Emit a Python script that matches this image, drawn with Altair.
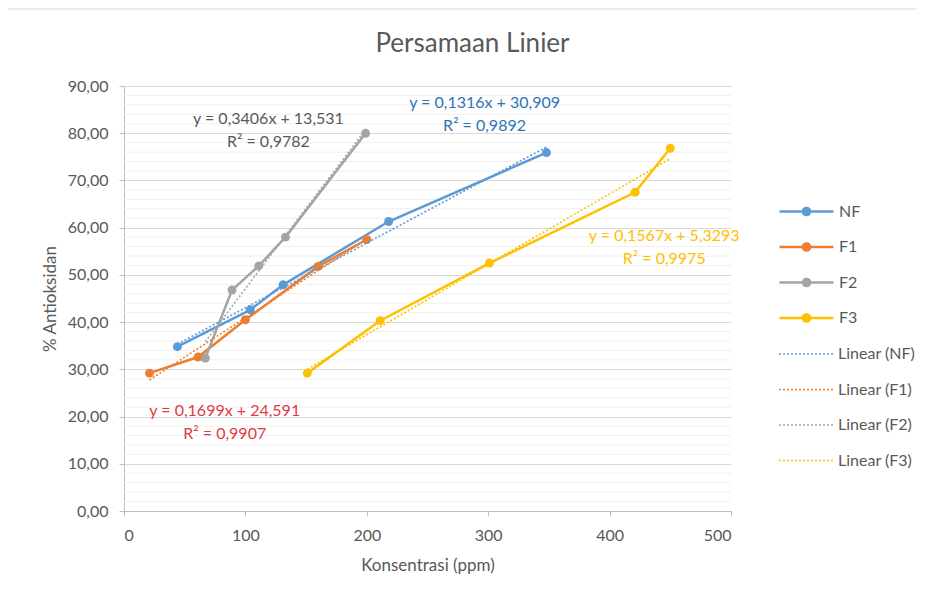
import altair as alt
import pandas as pd

# ---- data ----
series_names = ["NF", "F1", "F2", "F3"]
series_colors = ["#5B9BD5", "#ED7D31", "#A5A5A5", "#FFC000"]

nf_x = [44, 104, 131, 218, 348]
nf_y = [34.8, 42.6, 47.9, 61.3, 75.9]
f1_x = [21, 61, 100, 160, 200]
f1_y = [29.2, 32.6, 40.5, 51.8, 57.5]
f2_x = [67, 89, 111, 133, 199]
f2_y = [32.4, 46.8, 51.9, 58.0, 80.0]
f3_x = [151, 211, 301, 421, 450]
f3_y = [29.2, 40.3, 52.5, 67.5, 76.8]

trend_names = ["Linear (NF)", "Linear (F1)", "Linear (F2)", "Linear (F3)"]

eq_text = [
    ["y = 0,1316x + 30,909", "R² = 0,9892"],
    ["y = 0,1699x + 24,591", "R² = 0,9907"],
    ["y = 0,3406x + 13,531", "R² = 0,9782"],
    ["y = 0,1567x + 5,3293", "R² = 0,9975"],
]
eq_x = [297, 83, 119, 445]
eq_y = [86.4, 21.2, 83.0, 58.2]
eq_colors = ["#2E75B6", "#E03A45", "#595959", "#FFC000"]

x_ticks = [0, 100, 200, 300, 400, 500]
y_ticks = [0, 10, 20, 30, 40, 50, 60, 70, 80, 90]
y_minor = [v for v in range(0, 91, 2) if v % 10 != 0]

# ---- build tables ----
rows = []
for name, xs, ys in zip(series_names, [nf_x, f1_x, f2_x, f3_x], [nf_y, f1_y, f2_y, f3_y]):
    for i, (a, b) in enumerate(zip(xs, ys)):
        rows.append({"series": name, "x": a, "y": b, "order": i})
df = pd.DataFrame(rows)

eq_df = pd.DataFrame({"series": series_names, "label": eq_text, "x": eq_x, "y": eq_y})
minor_df = pd.DataFrame({"y": y_minor})

FONT = "Lato"
TXT = "#595959"

xscale = alt.Scale(domain=[0, 500], nice=False)
yscale = alt.Scale(domain=[0, 90], nice=False)

x_axis = alt.Axis(
    values=x_ticks, grid=False, tickSize=5, tickColor="#bfbfbf",
    domainColor="#bfbfbf", labelFontSize=16, labelColor=TXT, labelFont=FONT,
    labelPadding=11, title="Konsentrasi (ppm)", titleFontSize=17,
    titleColor=TXT, titleFont=FONT, titleFontWeight="normal", titlePadding=14,
)
y_axis = alt.Axis(
    values=y_ticks,
    labelExpr="replace(format(datum.value, '.2f'), '.', ',')",
    labelOverlap=False, gridColor="#d9d9d9", tickColor="#bfbfbf",
    tickSize=5, domainColor="#bfbfbf", labelFontSize=16, labelColor=TXT,
    labelFont=FONT, labelPadding=11, title="% Antioksidan", titleFontSize=17,
    titleColor=TXT, titleFont=FONT, titleFontWeight="normal", titlePadding=8,
)

LINE_DOT = ("M-3,0H3"
            "M0.1,0A0.1,0.1,0,1,1,-0.1,0A0.1,0.1,0,1,1,0.1,0"
            "M0.25,0A0.25,0.25,0,1,1,-0.25,0A0.25,0.25,0,1,1,0.25,0"
            "M0.4,0A0.4,0.4,0,1,1,-0.4,0A0.4,0.4,0,1,1,0.4,0")

minor = alt.Chart(minor_df).mark_rule(color="#f0f0f0", strokeWidth=1).encode(
    y=alt.Y("y:Q", scale=yscale, axis=y_axis),
    x=alt.value(0), x2=alt.value(607),
)

base = alt.Chart(df)

lines = base.mark_line(strokeWidth=2.5).encode(
    x=alt.X("x:Q", scale=xscale, axis=x_axis),
    y=alt.Y("y:Q", scale=yscale, axis=y_axis),
    order="order:Q",
    color=alt.Color(
        "series:N",
        scale=alt.Scale(domain=series_names, range=series_colors),
        legend=alt.Legend(
            title=None, orient="none", legendX=672, legendY=115,
            symbolType=LINE_DOT, symbolSize=324, symbolStrokeWidth=2.5,
            labelOffset=22, rowPadding=15.5, labelFontSize=16,
            labelColor=TXT, labelFont=FONT, padding=0,
        ),
    ),
)

points = base.mark_circle(size=80, opacity=1).encode(
    x=alt.X("x:Q", scale=xscale, axis=x_axis),
    y=alt.Y("y:Q", scale=yscale, axis=y_axis),
    fill=alt.Fill("series:N", scale=alt.Scale(domain=series_names, range=series_colors), legend=None),
)

trend = base.transform_regression(
    "x", "y", groupby=["series"]
).transform_calculate(
    trend="'Linear (' + datum.series + ')'"
).mark_line(strokeWidth=1.6, strokeDash=[2, 2]).encode(
    x=alt.X("x:Q", scale=xscale, axis=x_axis),
    y=alt.Y("y:Q", scale=yscale, axis=y_axis),
    color=alt.Color(
        "trend:N",
        scale=alt.Scale(domain=trend_names, range=series_colors),
        legend=alt.Legend(
            title=None, orient="none", legendX=672, legendY=258,
            symbolType="M-3,0H3", symbolSize=324, symbolStrokeWidth=1.6,
            symbolDash=[2, 2], labelOffset=22, rowPadding=17.5,
            labelFontSize=16, labelColor=TXT, labelFont=FONT, padding=0,
        ),
    ),
)

labels = alt.Chart(eq_df).mark_text(
    font=FONT, fontSize=16, align="center", baseline="middle", lineHeight=23,
).encode(
    x=alt.X("x:Q", scale=xscale, axis=x_axis),
    y=alt.Y("y:Q", scale=yscale, axis=y_axis),
    text="label",
    fill=alt.Fill("series:N", scale=alt.Scale(domain=series_names, range=eq_colors), legend=None),
)

frame = alt.Chart(alt.Data(values=[{"k": 1}])).mark_rect(
    fill="transparent", stroke="#d9d9d9", strokeWidth=1
).encode(
    x=alt.value(-117), x2=alt.value(802), y=alt.value(-77), y2=alt.value(520)
)

chart = alt.layer(frame, minor, lines, points, trend, labels).resolve_scale(
    color="independent", fill="independent"
).properties(
    width=607, height=425,
    autosize=alt.AutoSizeParams(type="none"),
    padding={"left": 116, "top": 78, "right": 185, "bottom": 70},
    title=alt.Title(
        "Persamaan Linier", fontSize=26, color=TXT, fontWeight="normal",
        font=FONT, anchor="middle", frame="group", dx=45, offset=-48,
    ),
    background="white",
).configure_view(stroke=None)

chart.save("out.html", embed_options={"renderer": "svg", "actions": False})
